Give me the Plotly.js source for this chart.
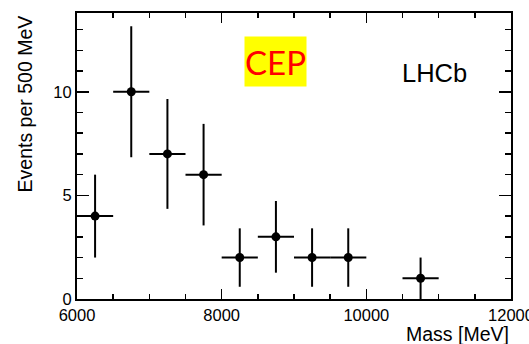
<!DOCTYPE html>
<html>
<head>
<meta charset="utf-8">
<script src="https://cdn.plot.ly/plotly-3.0.1.min.js"></script>
<style>html,body{margin:0;padding:0;background:#fff;}#chart{width:529px;height:344px;}</style>
</head>
<body>
<div id="chart"></div>
<script>
// Bin centres (MeV), events per 500 MeV bin, statistical errors
const massBinCentres = [6250, 6750, 7250, 7750, 8250, 8750, 9250, 9750, 10750];
const eventCounts = [4, 10, 7, 6, 2, 3, 2, 2, 1];
const eventErrors = [2, 3.16, 2.65, 2.45, 1.41, 1.73, 1.41, 1.41, 1];
const binHalfWidths = [250, 250, 250, 250, 250, 250, 250, 250, 250];
const xTickValues = [6000, 8000, 10000, 12000];
const xTickLabels = ['6000', '8000', '10000', '12000'];
const yTickValues = [0, 5, 10];
const yTickLabels = ['0', '5', '10'];

const FONT = 'Liberation Sans, Arial, Helvetica, sans-serif';
const NARROW = 'Liberation Sans Narrow, Arial Narrow, Lato, sans-serif';

const trace = {
  x: massBinCentres,
  y: eventCounts,
  type: 'scatter',
  mode: 'markers',
  marker: {color: '#000', size: 9, symbol: 'circle'},
  error_y: {type: 'data', array: eventErrors, visible: true, color: '#000', thickness: 2, width: 0},
  error_x: {type: 'data', array: binHalfWidths, visible: true, color: '#000', thickness: 2, width: 0},
  cliponaxis: true,
  showlegend: false
};

const layout = {
  width: 529, height: 344,
  margin: {l: 77, r: 18, t: 13, b: 45, pad: 0},
  paper_bgcolor: '#fff', plot_bgcolor: '#fff',
  font: {family: FONT, color: '#000', size: 16.5},
  xaxis: {
    range: [6000, 12000], showgrid: false, zeroline: false,
    showline: true, linecolor: '#000', linewidth: 2, mirror: 'allticks',
    ticks: 'inside', ticklen: 10, tickwidth: 1.5, tickcolor: '#000',
    tickvals: xTickValues, ticktext: xTickLabels, ticklabeloverflow: 'allow',
    tickfont: {family: FONT, size: 16.5, color: '#000'},
    minor: {dtick: 500, tick0: 6000, ticks: 'inside', ticklen: 5, tickwidth: 1.5, tickcolor: '#000', showgrid: false}
  },
  yaxis: {
    range: [0, 13.8], showgrid: false, zeroline: false,
    showline: true, linecolor: '#000', linewidth: 2, mirror: 'allticks',
    ticks: 'inside', ticklen: 12, tickwidth: 1.5, tickcolor: '#000',
    tickvals: yTickValues, ticktext: yTickLabels,
    tickfont: {family: FONT, size: 16.5, color: '#000'},
    minor: {dtick: 1, tick0: 0, ticks: 'inside', ticklen: 6, tickwidth: 1.5, tickcolor: '#000', showgrid: false}
  },
  annotations: [
    {text: 'CEP', xref: 'paper', yref: 'paper', x: 0.4585, y: 0.83, xanchor: 'center', yanchor: 'middle',
     showarrow: false, bgcolor: '#ffff00', width: 61, height: 49, borderpad: 0,
     font: {family: NARROW, size: 33, color: '#ff0000'}},
    {text: 'LHCb', xref: 'paper', yref: 'paper', x: 0.824, y: 0.79, xanchor: 'center', yanchor: 'middle',
     showarrow: false, font: {family: FONT, size: 25.5, color: '#000'}},
    {text: 'Events per 500 MeV', xref: 'paper', yref: 'paper', x: -0.12, y: 1.0, xanchor: 'center', yanchor: 'top',
     textangle: -90, showarrow: false, font: {family: FONT, size: 19.5, color: '#000'}},
    {text: 'Mass [MeV]', xref: 'paper', yref: 'paper', x: 1.0, y: -0.122, xanchor: 'right', yanchor: 'middle',
     showarrow: false, font: {family: FONT, size: 19.5, color: '#000'}}
  ]
};

Plotly.newPlot('chart', [trace], layout, {staticPlot: true, displayModeBar: false});
</script>
</body>
</html>
